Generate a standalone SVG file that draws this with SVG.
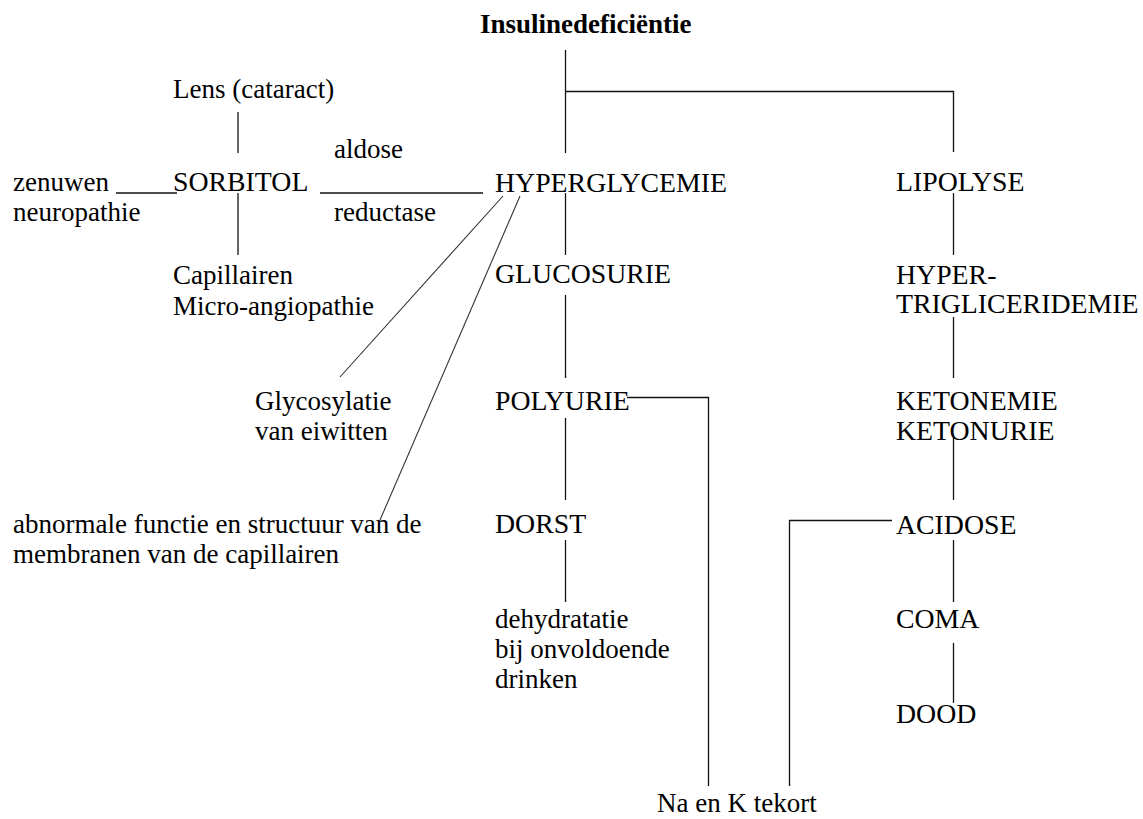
<svg xmlns="http://www.w3.org/2000/svg" width="1143" height="819" viewBox="0 0 1143 819">
<style>
text{font-family:"Liberation Serif","Times New Roman",serif;font-size:27px;fill:#000}
.b{font-weight:bold}
.u{font-size:27.8px}
.c line,.c polyline{stroke:#111;stroke-width:1.3;fill:none}
.c .d{stroke:#333;stroke-width:1.1}
</style>
<rect width="1143" height="819" fill="#fff"/>
<g class="c" id="connectors">
<line x1="565.5" y1="50" x2="565.5" y2="153"/>
<polyline points="565.5,91.5 953.5,91.5 953.5,152"/>
<line x1="238" y1="112" x2="238" y2="153"/>
<line x1="116" y1="193" x2="177" y2="193"/>
<line x1="320" y1="193" x2="483" y2="193"/>
<line x1="238" y1="193" x2="238" y2="255"/>
<line x1="565.5" y1="193" x2="565.5" y2="255"/>
<line x1="953.5" y1="193" x2="953.5" y2="255"/>
<line x1="565.5" y1="295" x2="565.5" y2="378"/>
<line x1="953.5" y1="317" x2="953.5" y2="378"/>
<line class="d" x1="503" y1="196" x2="340" y2="377"/>
<line class="d" x1="520" y1="196" x2="380" y2="520"/>
<polyline points="627,397.5 708.5,397.5 708.5,786"/>
<line x1="565.5" y1="418" x2="565.5" y2="500"/>
<line x1="953.5" y1="437" x2="953.5" y2="500"/>
<polyline points="892,520.5 789.5,520.5 789.5,786"/>
<line x1="565.5" y1="540" x2="565.5" y2="602"/>
<line x1="953.5" y1="540" x2="953.5" y2="602"/>
<line x1="953.5" y1="643" x2="953.5" y2="703"/>
</g>
<g id="insulinedeficientie"><text class="b" x="480" y="33">Insulinedeficiëntie</text></g>
<g id="lens"><text x="173" y="98">Lens (cataract)</text></g>
<g id="aldose-reductase"><text x="334" y="158">aldose</text><text x="334" y="221">reductase</text></g>
<g id="zenuwen"><text x="13" y="191">zenuwen</text><text x="13" y="221">neuropathie</text></g>
<g id="sorbitol"><text class="u" x="173" y="191">SORBITOL</text></g>
<g id="hyperglycemie"><text class="u" x="495" y="192">HYPERGLYCEMIE</text></g>
<g id="lipolyse"><text class="u" x="896" y="191">LIPOLYSE</text></g>
<g id="capillairen"><text x="173" y="284">Capillairen</text><text x="173" y="315">Micro-angiopathie</text></g>
<g id="glucosurie"><text class="u" x="495" y="283">GLUCOSURIE</text></g>
<g id="hypertriglyceridemie"><text class="u" x="896" y="284">HYPER-</text><text class="u" x="896" y="313">TRIGLICERIDEMIE</text></g>
<g id="glycosylatie"><text x="255" y="410">Glycosylatie</text><text x="255" y="440">van eiwitten</text></g>
<g id="polyurie"><text class="u" x="495" y="410">POLYURIE</text></g>
<g id="ketonemie"><text class="u" x="896" y="410">KETONEMIE</text><text class="u" x="896" y="440">KETONURIE</text></g>
<g id="abnormale"><text x="13" y="533">abnormale functie en structuur van de</text><text x="13" y="563">membranen van de capillairen</text></g>
<g id="dorst"><text class="u" x="495" y="533">DORST</text></g>
<g id="acidose"><text class="u" x="896" y="534">ACIDOSE</text></g>
<g id="dehydratatie"><text x="495" y="628">dehydratatie</text><text x="495" y="658">bij onvoldoende</text><text x="495" y="688">drinken</text></g>
<g id="coma"><text class="u" x="896" y="628">COMA</text></g>
<g id="dood"><text class="u" x="896" y="723">DOOD</text></g>
<g id="na-k"><text x="657" y="812">Na en K tekort</text></g>
</svg>
